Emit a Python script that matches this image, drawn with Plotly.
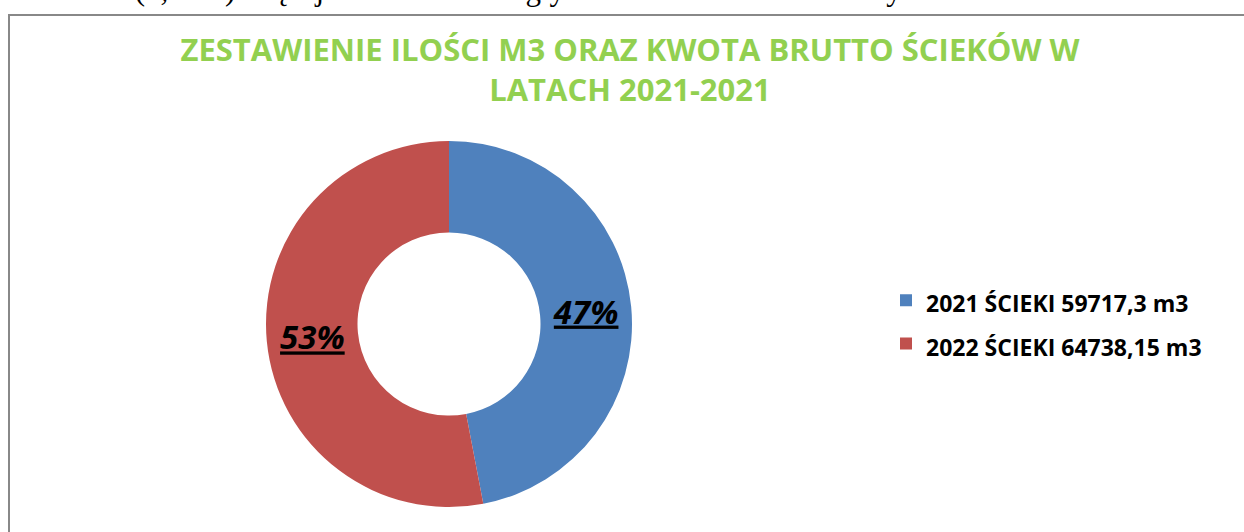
import plotly.graph_objects as go

labels = ["2021 ŚCIEKI 59717,3 m3", "2022 ŚCIEKI 64738,15 m3"]
shares = [47, 53]
colors = ["#4F81BD", "#C0504D"]
title_text = "ZESTAWIENIE ILOŚCI M3 ORAZ KWOTA BRUTTO ŚCIEKÓW W<br>LATACH 2021-2021"
context_text = "621 m³ – (8,41%) więcej niż w roku ubiegłym 2021. Przedstawia to wykres."

W, H = 1244, 532

cx, cy, r = 449, 324, 183

# legend row height is driven by the legend font size; the label itself is drawn smaller
legend_labels = [f"<span style='font-size:23px'>{t}</span>" for t in labels]

fig = go.Figure(go.Pie(
    labels=legend_labels,
    values=shares,
    hole=0.5,
    sort=False,
    direction="clockwise",
    rotation=0,
    marker=dict(colors=colors, line=dict(width=0)),
    textinfo="percent",
    texttemplate="<b><i><u>%{percent:.0%}</u></i></b>",
    textposition="inside",
    insidetextorientation="horizontal",
    textfont=dict(family="Open Sans", size=33, color="#000000"),
    domain=dict(x=[(cx - r) / W, (cx + r) / W], y=[1 - (cy + r) / H, 1 - (cy - r) / H]),
))

fig.update_layout(
    width=W, height=H,
    margin=dict(l=0, r=0, t=0, b=0),
    paper_bgcolor="white",
    plot_bgcolor="white",
    title=dict(
        text=title_text,
        x=630 / W, xanchor="center",
        y=1 - 61 / H, yanchor="middle",
        font=dict(family="Open Sans", size=31, color="#92D050", weight="bold"),
    ),
    legend=dict(
        x=886 / W, xanchor="left",
        y=1 - 322 / H, yanchor="middle",
        font=dict(family="Open Sans", size=31, color="#000000", weight="bold"),
        bgcolor="rgba(0,0,0,0)",
    ),
    showlegend=True,
    shapes=[dict(
        type="rect", xref="paper", yref="paper",
        x0=9 / W, x1=1.05, y0=-0.05, y1=1 - 15 / H,
        line=dict(color="#888888", width=2),
    )],
    annotations=[dict(
        text=context_text, xref="paper", yref="paper",
        x=14 / W, xanchor="left", y=1 + 11 / H, yanchor="middle",
        showarrow=False,
        font=dict(family="Liberation Serif", size=31, color="#000000"),
    )],
)

fig.write_html("out.html", config={"displayModeBar": False},
               post_script="document.body.style.margin='0px';")
